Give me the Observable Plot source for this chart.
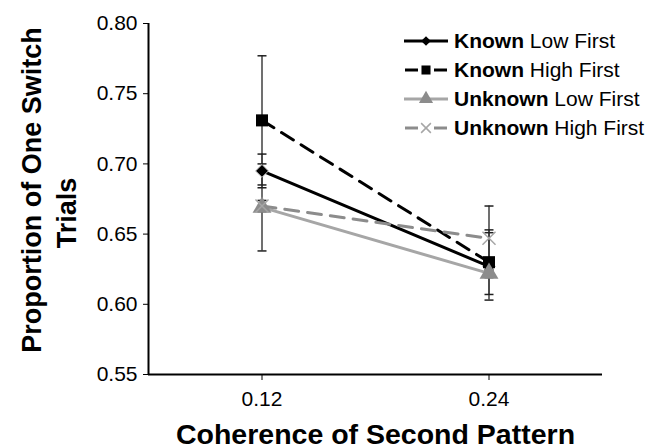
<!DOCTYPE html>
<html>
<head>
<meta charset="utf-8">
<script src="https://cdn.jsdelivr.net/npm/d3@7"></script>
<script src="https://cdn.jsdelivr.net/npm/@observablehq/plot@0.6"></script>
<style>
  html, body { margin: 0; padding: 0; background: #fff; }
  #wrap { position: relative; width: 659px; height: 448px; font-family: "Liberation Sans", Arial, sans-serif; }
  #legend { position: absolute; left: 403px; top: 26px; font-size: 21px; color: #000; }
  .row { display: flex; align-items: center; height: 29px; white-space: nowrap; }
  .row svg { margin-right: 5px; }
</style>
</head>
<body>
<div id="wrap"><div id="chart"></div><div id="legend"></div></div>
<script>
// ---- data ----
const coherence = [0.12, 0.24];
const xTicks = [0.12, 0.24];
const yTicks = [0.55, 0.60, 0.65, 0.70, 0.75, 0.80];
const seriesNames = ["Known Low First", "Known High First", "Unknown Low First", "Unknown High First"];
const knownLow = [0.695, 0.627];
const knownLowErr = [0.012, 0.024];
const knownHigh = [0.731, 0.630];
const knownHighErr = [0.046, 0.023];
const unknownLow = [0.669, 0.622];
const unknownLowErr = [0.031, 0.003];
const unknownHigh = [0.670, 0.647];
const unknownHighErr = [0.004, 0.023];

// ---- styles ----
const styles = {
  "Known Low First":   {stroke: "#000000", dash: null,  symbol: "diamond2", mFill: "#000000", mStroke: "#c8c8c8", r: 5.8},
  "Known High First":  {stroke: "#000000", dash: "14,9", symbol: "square",  mFill: "#000000", mStroke: "none", r: 6.8},
  "Unknown Low First": {stroke: "#a6a6a6", dash: null,  symbol: "triangle", mFill: "#8c8c8c", mStroke: "none", r: 7},
  "Unknown High First":{stroke: "#8c8c8c", dash: "14,9", symbol: "times",   mFill: "none", mStroke: "#a6a6a6", r: 6}
};

const valuesBy = {
  "Known Low First": [knownLow, knownLowErr],
  "Known High First": [knownHigh, knownHighErr],
  "Unknown Low First": [unknownLow, unknownLowErr],
  "Unknown High First": [unknownHigh, unknownHighErr]
};
const rows = [];
for (const s of seriesNames) {
  const [v, e] = valuesBy[s];
  coherence.forEach((c, i) => rows.push({series: s, x: c, y: v[i], lo: v[i] - e[i], hi: v[i] + e[i]}));
}

const cap = {draw(ctx, size) { const w = 4.5; ctx.moveTo(-w, 0); ctx.lineTo(w, 0); }};

const marks = [
  Plot.ruleX([0.06], {stroke: "#000", strokeWidth: 2}),
  Plot.ruleY([0.55], {stroke: "#000", strokeWidth: 2}),
  // error bars
  Plot.ruleX(rows, {x: "x", y1: "lo", y2: "hi", stroke: "#404040", strokeWidth: 1.5}),
  Plot.dot(rows, {x: "x", y: "lo", symbol: cap, r: 3, stroke: "#202020", strokeWidth: 1.5}),
  Plot.dot(rows, {x: "x", y: "hi", symbol: cap, r: 3, stroke: "#202020", strokeWidth: 1.5})
];
for (const s of seriesNames) {
  const st = styles[s];
  const d = rows.filter(r => r.series === s);
  marks.push(Plot.line(d, {x: "x", y: "y", stroke: st.stroke, strokeWidth: 3, strokeDasharray: st.dash}));
}
for (const s of seriesNames) {
  const st = styles[s];
  const d = rows.filter(r => r.series === s);
  marks.push(Plot.dot(d, {x: "x", y: "y", symbol: st.symbol, r: st.r, fill: st.mFill, stroke: st.mStroke, strokeWidth: st.symbol === "times" ? 1.5 : 1}));
}
// axis titles
marks.push(Plot.text(["Proportion of One Switch"], {frameAnchor: "left", textAnchor: "middle", dx: -116, dy: -9, rotate: -90, fontSize: 27, fontWeight: "bold", fill: "#000"}));
marks.push(Plot.text(["Trials"], {frameAnchor: "left", textAnchor: "middle", dx: -81, dy: 14, rotate: -90, fontSize: 27, fontWeight: "bold", fill: "#000"}));
marks.push(Plot.text(["Coherence of Second Pattern"], {frameAnchor: "bottom", textAnchor: "middle", dy: 69, fontSize: 28.5, fontWeight: "bold", fill: "#000"}));

const chart = Plot.plot({
  width: 659,
  height: 448,
  marginLeft: 148,
  marginRight: 57,
  marginTop: 23,
  marginBottom: 74,
  style: {fontFamily: "'Liberation Sans', Arial, sans-serif", fontSize: "21px", color: "#000", background: "#fff"},
  x: {domain: [0.06, 0.30], ticks: xTicks, tickFormat: d3.format(".2f"), tickSize: 6, tickPadding: 11, label: null},
  y: {domain: [0.55, 0.80], ticks: yTicks, tickFormat: d3.format(".2f"), tickSize: 5, tickPadding: 6, label: null},
  marks
});
document.getElementById("chart").appendChild(chart);

// ---- legend ----
const legend = d3.select("#legend");
for (const s of seriesNames) {
  const st = styles[s];
  const row = legend.append("div").attr("class", "row");
  const svg = row.append("svg").attr("width", 46).attr("height", 20);
  const sym = {diamond2: d3.symbolDiamond2, square: d3.symbolSquare, triangle: d3.symbolTriangle, times: d3.symbolTimes}[st.symbol];
  const size = Math.PI * (st.r * 0.75) ** 2;
  if (st.dash) {
    svg.append("line").attr("x1", 2).attr("x2", 15).attr("y1", 10).attr("y2", 10).attr("stroke", st.stroke).attr("stroke-width", 3);
    svg.append("line").attr("x1", 31).attr("x2", 44).attr("y1", 10).attr("y2", 10).attr("stroke", st.stroke).attr("stroke-width", 3);
  } else {
    svg.append("line").attr("x1", 1).attr("x2", 45).attr("y1", 10).attr("y2", 10).attr("stroke", st.stroke).attr("stroke-width", 3);
  }
  svg.append("path").attr("d", d3.symbol(sym, size)()).attr("transform", "translate(23,10)")
    .attr("fill", st.mFill).attr("stroke", st.mStroke === "#c8c8c8" ? "none" : st.mStroke).attr("stroke-width", 1.5);
  const [first, ...rest] = s.split(" ");
  row.append("b").text(first);
  row.append("span").text("\u00a0" + rest.join(" "));
}
</script>
</body>
</html>
